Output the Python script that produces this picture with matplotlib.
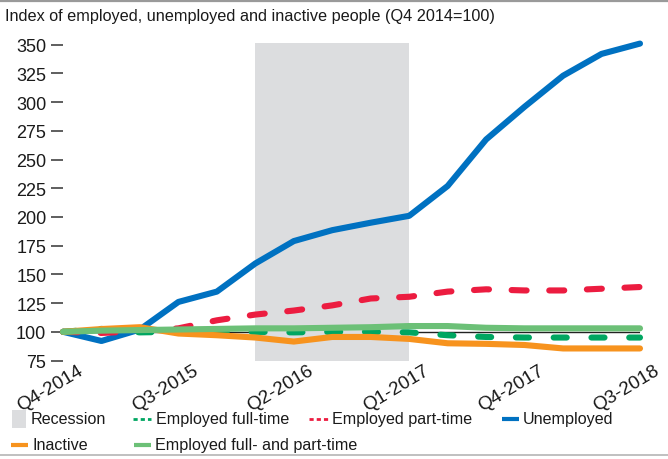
import matplotlib
matplotlib.use("Agg")
import matplotlib.pyplot as plt
from matplotlib.lines import Line2D
from matplotlib.patches import Rectangle
import matplotlib.transforms as mtransforms

plt.rcParams['font.family'] = ['Liberation Sans', 'DejaVu Sans']
plt.rcParams['lines.scale_dashes'] = False

quarters = ["Q4-2014", "Q1-2015", "Q2-2015", "Q3-2015", "Q4-2015", "Q1-2016",
            "Q2-2016", "Q3-2016", "Q4-2016", "Q1-2017", "Q2-2017", "Q3-2017",
            "Q4-2017", "Q1-2018", "Q2-2018", "Q3-2018"]
tick_idx = [0, 3, 6, 9, 12, 15]
y_ticks = [75, 100, 125, 150, 175, 200, 225, 250, 275, 300, 325, 350]

unemployed = [100, 92, 102, 126, 135, 159.5, 179, 188.5, 195, 201, 227, 267.5, 296, 323, 342, 351]
part_time = [100, 99, 100.5, 103, 110, 115, 118.5, 123, 129, 130.5, 135, 137, 136, 136, 137.5, 139]
full_time = [100, 102.5, 99.5, 100, 100.5, 100, 99.5, 100, 100, 99.5, 97, 95.5, 95, 95, 95, 95]
inactive = [100, 102.4, 104, 98.5, 97, 95, 91.5, 95.5, 95.5, 93.8, 90, 89.5, 88.5, 85.5, 85.5, 85.5]
full_and_part = [100, 101, 101.5, 102, 102.5, 103, 103, 103.5, 104, 105, 105, 103.5, 103, 103, 103, 103]
recession = (5, 9)

C_SHADE = "#dcdddf"
C_BLUE = "#0071c1"
C_RED = "#ec1c40"
C_DKGREEN = "#00a661"
C_ORANGE = "#f7931e"
C_LTGREEN = "#6cc077"
C_TEXT = "#1a1a1a"

W, H = 668, 460
fig = plt.figure(figsize=(W / 100, H / 100), dpi=100)
ax = fig.add_axes([63 / W, 1 - 361.5 / H, (640 - 63) / W, (361.5 - 44) / H])

x = list(range(len(quarters)))
ax.axhline(100, color="#222222", lw=1.0, zorder=1)
ax.axvspan(recession[0], recession[1], color=C_SHADE, lw=0, zorder=2)

common = dict(lw=4.4, solid_capstyle='round', solid_joinstyle='round',
              dash_capstyle='round', dash_joinstyle='round', clip_on=False)
ax.plot(x, unemployed, color=C_BLUE, zorder=3, **common)
ax.plot(x, part_time, color=C_RED, dashes=(10.8, 16.3), zorder=4, **common)
ax.plot(x, full_time, color=C_DKGREEN, dashes=(9.4, 17.8), zorder=5, **common)
ax.plot(x, inactive, color=C_ORANGE, zorder=6, **common)
ax.plot(x, full_and_part, color=C_LTGREEN, zorder=7, **common)

ax.set_xlim(0, 15)
ax.set_ylim(75, 351.5)
for s in ax.spines.values():
    s.set_visible(False)

ax.set_yticks(y_ticks)
ax.set_yticklabels([str(v) for v in y_ticks])
ax.tick_params(axis='y', length=8.5, width=1.1, color="#333333", pad=3.5,
               labelsize=13, labelcolor=C_TEXT)
ax.set_xticks(tick_idx)
ax.set_xticklabels([quarters[i] for i in tick_idx], rotation=31,
                   ha='right', va='top', rotation_mode='anchor')
ax.tick_params(axis='x', length=0, pad=0, labelsize=13.6, labelcolor=C_TEXT)
offset = mtransforms.ScaledTranslation(14 / 100, -1 / 100, fig.dpi_scale_trans)
for lab in ax.get_xticklabels():
    lab.set_transform(lab.get_transform() + offset)

# title and rules
fig.text(5 / W, 1 - 17 / H, "Index of employed, unemployed and inactive people (Q4 2014=100)",
         fontsize=11.7, color=C_TEXT, ha='left', va='center')
fig.add_artist(Line2D([0, 1], [1 - 2 / H, 1 - 2 / H], transform=fig.transFigure,
                      color="#9a9a9a", lw=1.6))
fig.add_artist(Line2D([0, 1], [1 - 456 / H, 1 - 456 / H], transform=fig.transFigure,
                      color="#b5b5b5", lw=1.2))

# legend (manual layout)
def fx(px):
    return px / W

def fy(py):
    return 1 - py / H

LFS = 11.6
def leg_line(x0, x1, y, color, dashed=False):
    kw = dict(transform=fig.transFigure, color=color, lw=3.0, solid_capstyle='butt')
    if dashed:
        kw.update(lw=2.0, dashes=(3.0, 2.2), dash_capstyle='butt')
    fig.add_artist(Line2D([fx(x0), fx(x1)], [fy(y), fy(y)], **kw))

def leg_text(xp, y, s):
    fig.text(fx(xp), fy(y), s, fontsize=LFS, color=C_TEXT, ha='left', va='center')

r1, r2 = 420, 446
fig.add_artist(Rectangle((fx(12), fy(429)), fx(26) - fx(12), fy(411) - fy(429),
                         transform=fig.transFigure, color=C_SHADE, lw=0))
leg_text(31, r1, "Recession")
leg_line(133, 151, r1, C_DKGREEN, dashed=True)
leg_text(156, r1, "Employed full-time")
leg_line(309, 328, r1, C_RED, dashed=True)
leg_text(332, r1, "Employed part-time")
leg_line(502, 519, r1, C_BLUE)
leg_text(523, r1, "Unemployed")
leg_line(11, 28, r2, C_ORANGE)
leg_text(32, r2, "Inactive")
leg_line(134, 151, r2, C_LTGREEN)
leg_text(155, r2, "Employed full- and part-time")

fig.savefig("out.png", dpi=100)
